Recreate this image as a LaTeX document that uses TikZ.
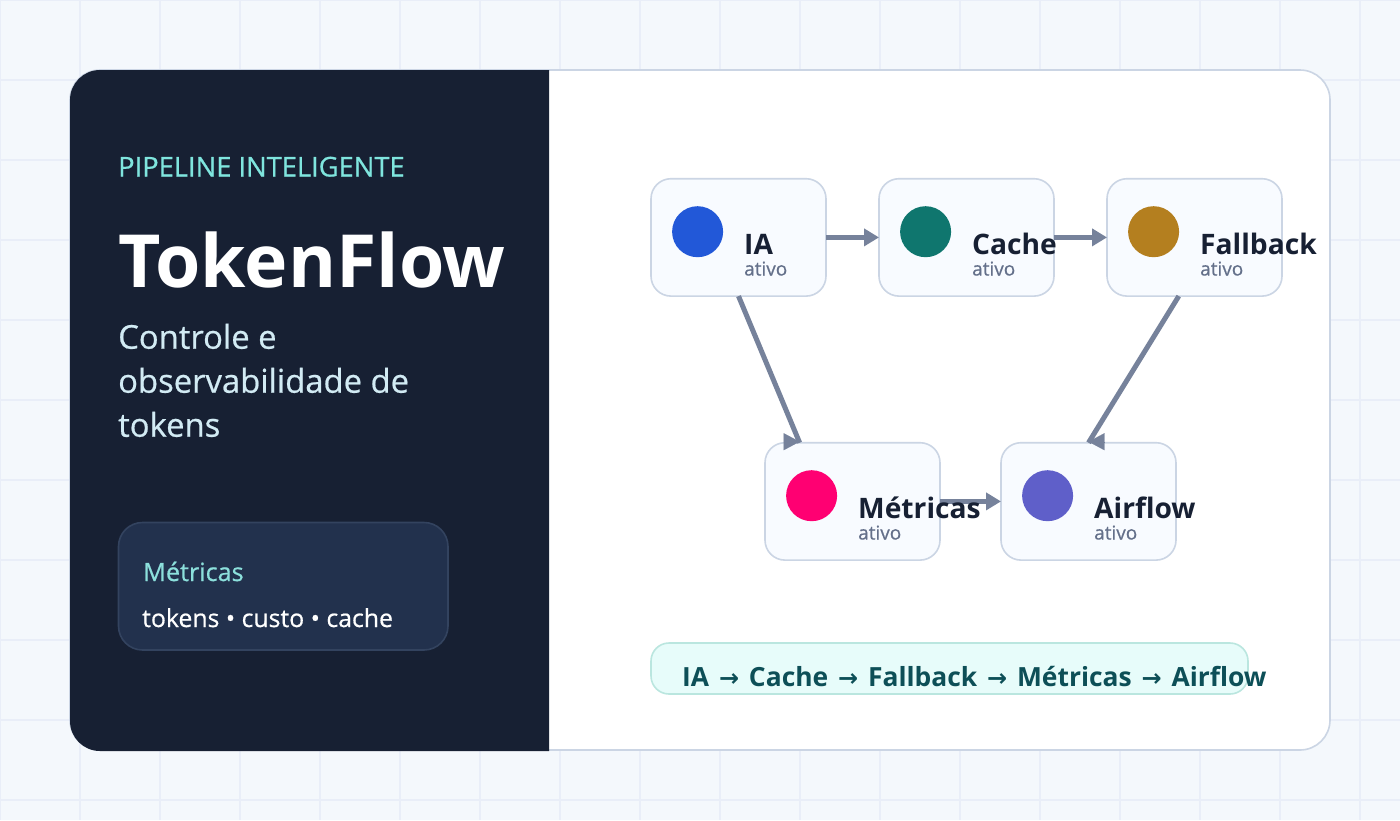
\documentclass[tikz,border=0pt]{standalone}
\usepackage{fontspec}
\setmainfont{Open Sans}
\newfontfamily\arrowfont{DejaVu Sans}
\newfontfamily\medfont[FakeBold=0.6]{Open Sans}
\usetikzlibrary{arrows.meta}

\definecolor{pagebg}{HTML}{F4F8FC}
\definecolor{gridline}{HTML}{E9EEF8}
\definecolor{cardline}{HTML}{CBD5E4}
\definecolor{darkpanel}{HTML}{172033}
\definecolor{teal}{HTML}{7FE5DE}
\definecolor{subtext}{HTML}{D2EBF4}
\definecolor{metricbox}{HTML}{22314D}
\definecolor{metricline}{HTML}{33435F}
\definecolor{metrichead}{HTML}{8CE0DC}
\definecolor{nodefill}{HTML}{F8FBFF}
\definecolor{nodetext}{HTML}{172033}
\definecolor{subnode}{HTML}{64708A}
\definecolor{linkcolor}{HTML}{76829B}
\definecolor{routefill}{HTML}{E7FCFA}
\definecolor{routeline}{HTML}{BAE6DF}
\definecolor{routetext}{HTML}{0D4F57}
\definecolor{dotblue}{HTML}{2258D8}
\definecolor{dotgreen}{HTML}{0F766E}
\definecolor{dotgold}{HTML}{B47F1F}
\definecolor{dotpink}{HTML}{FF0072}
\definecolor{dotviolet}{HTML}{5F5FC9}

\newcommand{\px}[1]{\fontsize{#1}{#1}\selectfont}
\newcommand{\rarrow}{\hspace{3pt}{\arrowfont\px{24}→}\hspace{3pt}}

\tikzset{
  flowbox/.style={draw=cardline,line width=1.6pt,fill=nodefill,rounded corners=20pt,outer sep=0pt,
    minimum width=175pt,minimum height=117.4pt,inner sep=0pt,anchor=north west},
  dot/.style={circle,minimum size=51pt,inner sep=0pt},
  boxtitle/.style={anchor=base west,inner sep=0pt,text=nodetext,font=\px{28.2}\bfseries},
  boxstate/.style={anchor=base west,inner sep=0pt,text=subnode,font=\px{19}\medfont},
  flowlink/.style={draw=linkcolor,line width=5pt},
  flowarrow/.style={flowlink,-{Triangle[length=15pt,width=17pt]}},
  flowhead/.style={draw=linkcolor,line width=0.1pt,-{Triangle[length=16pt,width=17pt]}},
  plain/.style={anchor=base west,inner sep=0pt},
}

\begin{document}
\begin{tikzpicture}[x=1pt,y=-1pt]
    \useasboundingbox (0,0) rectangle (1400,820);
    \fill[pagebg] (0,0) rectangle (1400,820);

    \foreach \x in {0,80,...,1360}
    \draw[gridline,line width=1.2pt] (\x,0) -- (\x,820);
    \foreach \y in {0,80,...,800}
    \draw[gridline,line width=1.2pt] (0,\y) -- (1400,\y);

    % card and dark side
    \draw[cardline,line width=1.6pt,fill=white,rounded corners=30pt] (70,70) rectangle (1330,750);
    \fill[darkpanel] (549,70) -- (100,70) arc[start angle=90,end angle=180,radius=30pt]
      -- (70,721) arc[start angle=180,end angle=270,radius=30pt] -- (549,751) -- cycle;

    \node[plain,text=teal,font=\px{27.3}\medfont] (kicker) at (118,176.5) {PIPELINE INTELIGENTE};
    \node[plain,text=white,font=\px{73.3}\bfseries] (title) at (118,287) {TokenFlow};
    \node[plain,text=subtext,font=\px{32.8}\medfont] (sub a) at (118,348.7) {Controle e};
    \node[plain,text=subtext,font=\px{32.8}\medfont] (sub b) at (118,392.7) {observabilidade de};
    \node[plain,text=subtext,font=\px{32.8}\medfont] (sub c) at (118,436.7) {tokens};

    \draw[metricline,line width=1.6pt,fill=metricbox,rounded corners=24pt] (118.5,522.5) rectangle (448,650);
    \node[plain,text=metrichead,font=\px{25.2}\medfont] (metric head) at (143,581) {Métricas};
    \node[plain,text=white,font=\px{24.8}\medfont] (metric list) at (142,627) {tokens • custo • cache};

    % flow boxes
    \foreach \name/\xa/\ya/\col in {ia/651/178.7/dotblue,cache/879/178.7/dotgreen,fallback/1107/178.7/dotgold,
        metricas/765/442.7/dotpink,airflow/1001/442.7/dotviolet}
    {
      \node[flowbox] (\name) at (\xa,\ya) {};
      \node[dot,fill=\col] (\name dot) at (\xa+46.6,\ya+53) {};
    }

    \draw[flowarrow] (ia.east) -- (cache.west);
    \draw[flowarrow] (cache.east) -- (fallback.west);
    \draw[flowarrow] (metricas.east) -- (airflow.west);

    % these two keep a level head
    \draw[flowlink] (ia.south) -- (metricas.132);
    \draw[flowhead] (metricas.132) ++(-16,-1) -- ++(16,0);
    \draw[flowlink] (fallback.-105) -- (airflow.north);
    \draw[flowhead] (airflow.north) ++(16,-1) -- ++(-16,0);

    \foreach \name/\xa/\ya/\txt in {ia/651/179/IA,cache/879/179/Cache,fallback/1107/179/Fallback,
        metricas/765/443/Métricas,airflow/1001/443/Airflow}
    {
      \node[boxtitle] (\name title) at (\xa+93,\ya+75) {\txt};
      \node[boxstate] (\name state) at (\xa+93,\ya+96.5) {ativo};
    }

    \draw[routeline,line width=1.6pt,fill=routefill,rounded corners=18pt] (651,643) rectangle (1248,694);
    \node[plain,text=routetext,font=\px{26.4}\bfseries] (route) at (682,686)
      {IA \rarrow{} Cache \rarrow{} Fallback \rarrow{} Métricas \rarrow{} Airflow};
\end{tikzpicture}
\end{document}
